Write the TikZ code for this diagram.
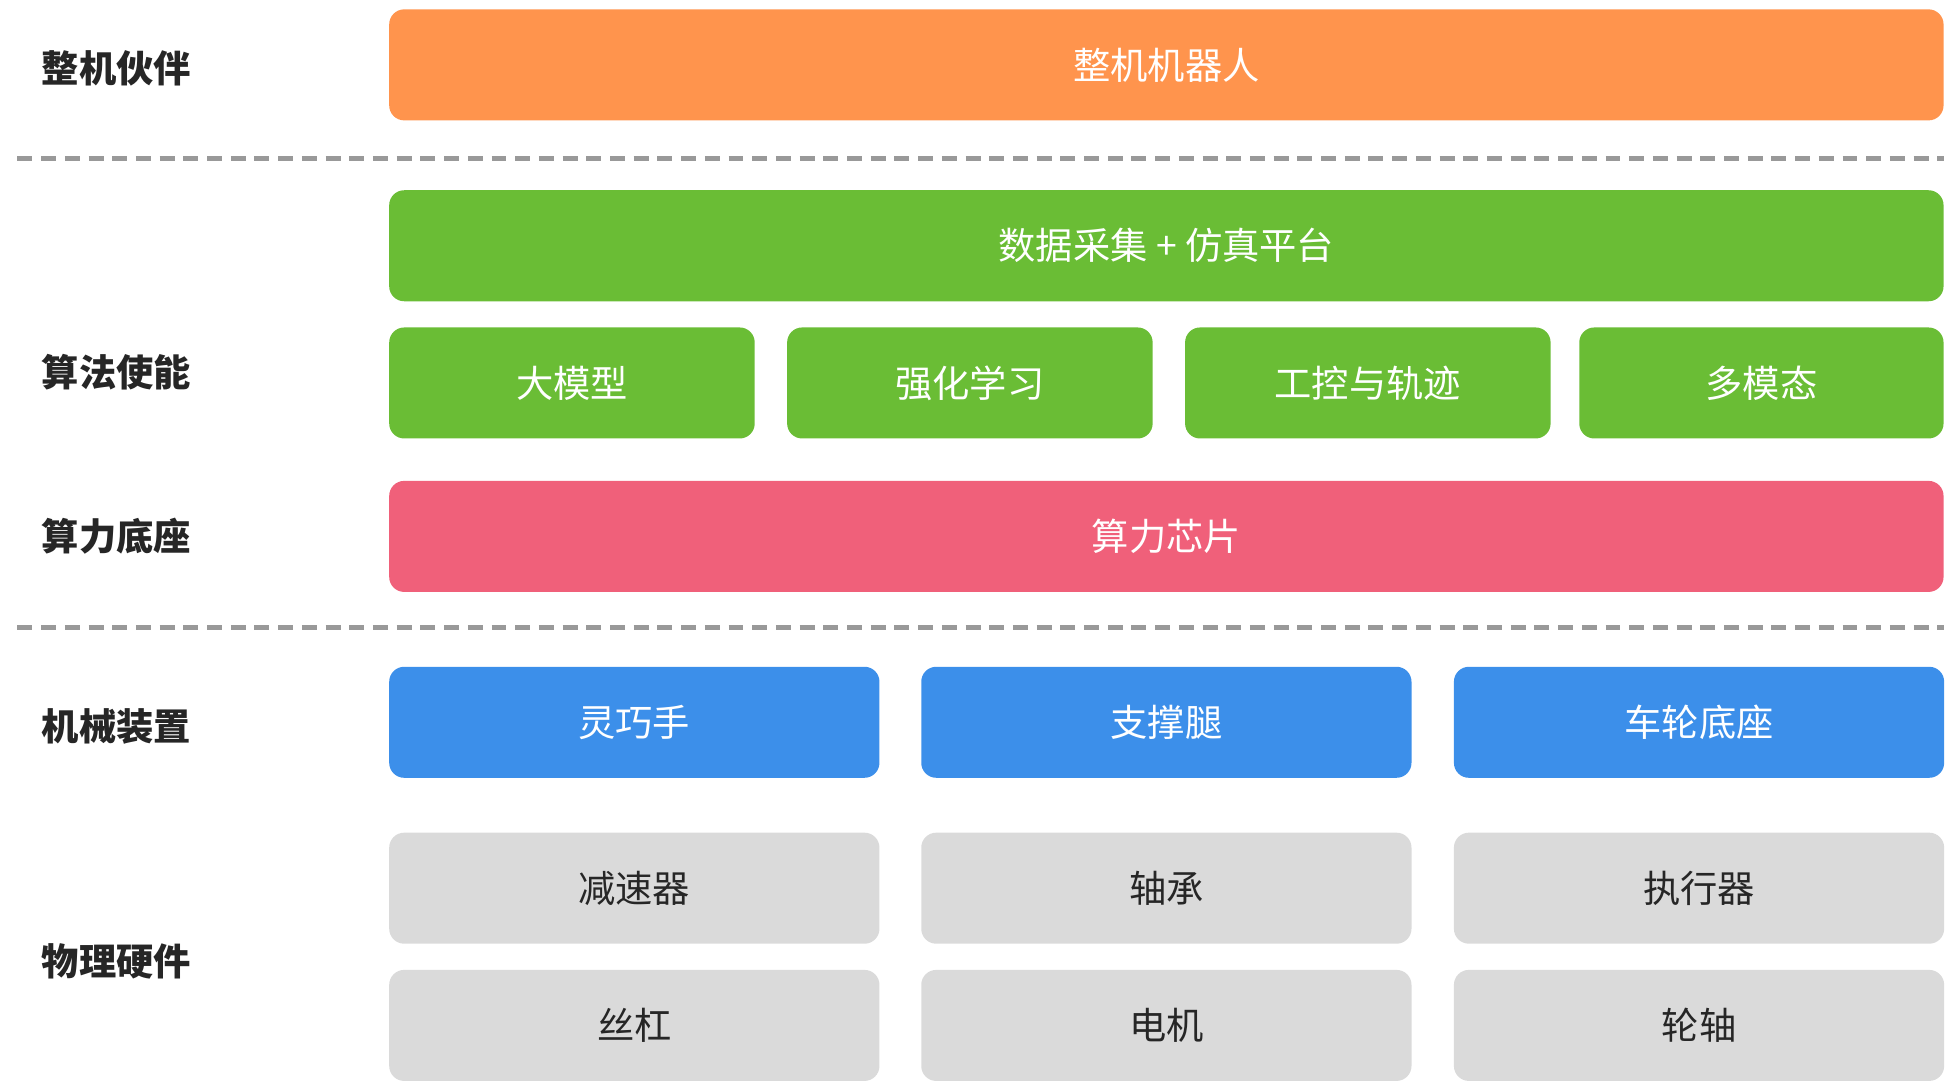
\documentclass[tikz,border=0pt]{standalone}
\usepackage{fontspec}
\setmainfont{Noto Sans CJK SC}
\begin{document}
\begin{tikzpicture}[x=1bp,y=-1bp,
  box/.style={rounded corners=12bp,draw=none,minimum height=89bp,inner sep=0pt,font=\fontsize{30}{36}\selectfont,text=white},
  hw/.style={box,fill=hwgray,text=black!85},
  lab/.style={anchor=west,font=\fontsize{30}{36}\selectfont\bfseries,text=black!85},
  sepline/.style={draw=black!40,line width=3.5bp,dash pattern=on 12bp off 7bp}]
\definecolor{org}{HTML}{FF944D}
\definecolor{grn}{HTML}{6ABD35}
\definecolor{rd}{HTML}{F0607A}
\definecolor{blu}{HTML}{3C8FEA}
\definecolor{hwgray}{HTML}{DADADA}
\useasboundingbox (0,0) rectangle (1568,871);
\node[box,fill=org,minimum width=1246bp] (zj) at (935,52) {整机机器人};
\coordinate (d1a) at (14,127); \coordinate (d1b) at (1558,127);
\draw[sepline] (d1a) -- (d1b);
\node[box,fill=grn,minimum width=1246bp] (sj) at (935,197) {数据采集 + 仿真平台};
\node[box,fill=grn,minimum width=293bp] (g1) at (458.5,307) {大模型};
\node[box,fill=grn,minimum width=293bp] (g2) at (777.5,307) {强化学习};
\node[box,fill=grn,minimum width=293bp] (g3) at (1096.5,307) {工控与轨迹};
\node[box,fill=grn,minimum width=292bp] (g4) at (1412,307) {多模态};
\node[box,fill=rd,minimum width=1246bp] (sl) at (935,430) {算力芯片};
\coordinate (d2a) at (14,503); \coordinate (d2b) at (1558,503);
\draw[sepline] (d2a) -- (d2b);
\node[box,fill=blu,minimum width=393bp] (b1) at (508.5,579) {灵巧手};
\node[box,fill=blu,minimum width=393bp] (b2) at (935,579) {支撑腿};
\node[box,fill=blu,minimum width=393bp] (b3) at (1362,579) {车轮底座};
\node[hw,minimum width=393bp] (h1) at (508.5,712) {减速器};
\node[hw,minimum width=393bp] (h2) at (935,712) {轴承};
\node[hw,minimum width=393bp] (h3) at (1362,712) {执行器};
\node[hw,minimum width=393bp] (h4) at (508.5,822) {丝杠};
\node[hw,minimum width=393bp] (h5) at (935,822) {电机};
\node[hw,minimum width=393bp] (h6) at (1362,822) {轮轴};
\node[lab] (l1) at (30,55) {整机伙伴};
\node[lab] (l2) at (30,298) {算法使能};
\node[lab] (l3) at (30,430) {算力底座};
\node[lab] (l4) at (30,582) {机械装置};
\node[lab] (l5) at (30,771) {物理硬件};
\end{tikzpicture}
\end{document}
